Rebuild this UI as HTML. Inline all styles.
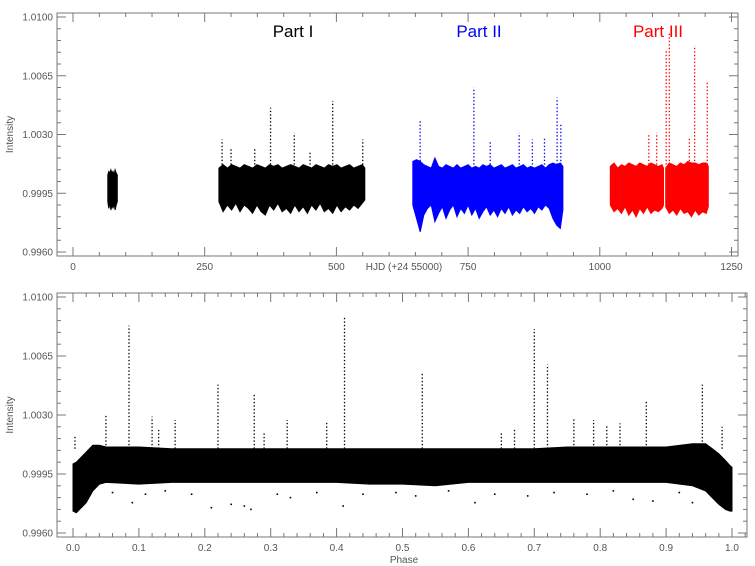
<!DOCTYPE html>
<html><head><meta charset="utf-8">
<style>
html,body{margin:0;padding:0;background:#fff;}
svg{display:block;font-family:"Liberation Sans",sans-serif;}
</style></head>
<body>
<svg id="chart" width="755" height="566" viewBox="0 0 755 566" xmlns="http://www.w3.org/2000/svg"></svg>
<script>
// ---- Top panel data (HJD - 2455000, intensity envelope) ----
const seg0Hjd = [66,68,70,72,74,76,78,80,82,84];
const seg0Hi  = [1.0006,1.0008,1.0007,1.0009,1.0007,1.0008,1.0006,1.0009,1.0007,1.0006];
const seg0Lo  = [0.9990,0.9986,0.9989,0.9985,0.9988,0.9986,0.9989,0.9985,0.9988,0.9990];
const seg1Hjd = [277,285,293,301,309,317,325,333,341,349,357,365,373,381,389,397,405,413,421,429,437,445,453,461,469,477,485,493,501,509,517,525,533,541,549,554];
const seg1Hi  = [1.0010,1.0012,1.0010,1.0012,1.0011,1.0010,1.0012,1.0011,1.0010,1.0012,1.0011,1.0010,1.0012,1.0011,1.0012,1.0010,1.0011,1.0012,1.0011,1.0010,1.0012,1.0011,1.0010,1.0012,1.0011,1.0010,1.0012,1.0011,1.0012,1.0010,1.0011,1.0012,1.0010,1.0011,1.0012,1.0010];
const seg1Lo  = [0.9990,0.9984,0.9988,0.9985,0.9989,0.9984,0.9988,0.9986,0.9983,0.9988,0.9984,0.9982,0.9988,0.9985,0.9989,0.9984,0.9986,0.9983,0.9988,0.9984,0.9987,0.9983,0.9988,0.9985,0.9989,0.9984,0.9986,0.9983,0.9988,0.9984,0.9987,0.9985,0.9988,0.9986,0.9989,0.9991];
const seg2Hjd = [645,652,659,666,673,680,687,694,701,708,715,722,729,736,743,750,757,764,771,778,785,792,799,806,813,820,827,834,841,848,855,862,869,876,883,890,897,904,911,918,925,930];
const seg2Hi  = [1.0014,1.0015,1.0014,1.0012,1.0011,1.0010,1.0016,1.0011,1.0010,1.0012,1.0011,1.0010,1.0012,1.0010,1.0011,1.0012,1.0010,1.0011,1.0010,1.0012,1.0011,1.0012,1.0010,1.0011,1.0012,1.0010,1.0011,1.0012,1.0010,1.0011,1.0012,1.0010,1.0011,1.0010,1.0011,1.0012,1.0010,1.0012,1.0013,1.0012,1.0013,1.0011];
const seg2Lo  = [0.9988,0.9980,0.9972,0.9982,0.9986,0.9988,0.9978,0.9983,0.9987,0.9980,0.9985,0.9988,0.9981,0.9986,0.9983,0.9988,0.9982,0.9986,0.9980,0.9984,0.9987,0.9982,0.9985,0.9981,0.9986,0.9983,0.9987,0.9982,0.9985,0.9983,0.9987,0.9984,0.9986,0.9983,0.9987,0.9985,0.9988,0.9986,0.9980,0.9976,0.9974,0.9985];
const seg3Hjd = [1020,1027,1034,1041,1048,1055,1062,1069,1076,1083,1090,1097,1104,1111,1118,1121];
const seg3Hi  = [1.0011,1.0013,1.0010,1.0012,1.0011,1.0013,1.0012,1.0011,1.0013,1.0012,1.0011,1.0013,1.0012,1.0011,1.0012,1.0010];
const seg3Lo  = [0.9988,0.9984,0.9986,0.9983,0.9987,0.9982,0.9985,0.9981,0.9986,0.9983,0.9987,0.9983,0.9985,0.9984,0.9986,0.9988];
const seg4Hjd = [1125,1132,1139,1146,1153,1160,1167,1174,1181,1188,1195,1202,1206];
const seg4Hi  = [1.0010,1.0013,1.0012,1.0011,1.0013,1.0012,1.0014,1.0013,1.0013,1.0012,1.0013,1.0013,1.0011];
const seg4Lo  = [0.9987,0.9983,0.9985,0.9982,0.9986,0.9983,0.9984,0.9981,0.9985,0.9982,0.9984,0.9983,0.9987];
const spike1Hjd = [283,300,345,375,420,450,493,550];
const spike1Top = [1.0027,1.0022,1.0022,1.0046,1.0031,1.0020,1.0050,1.0027];
const spike2Hjd = [659,761,792,847,872,895,919,926];
const spike2Top = [1.0038,1.0058,1.0026,1.0031,1.0027,1.0028,1.0052,1.0036];
const spike3Hjd = [1093,1108,1126,1132,1170,1180,1204];
const spike3Top = [1.0030,1.0031,1.0080,1.0090,1.0028,1.0083,1.0061];

// ---- Bottom panel data (phase-folded envelope) ----
const phase   = [0.000,0.005,0.010,0.020,0.030,0.040,0.050,0.100,0.150,0.200,0.250,0.300,0.350,0.400,0.450,0.500,0.550,0.600,0.650,0.700,0.750,0.800,0.850,0.900,0.940,0.960,0.970,0.980,0.990,0.997,1.000];
const phaseHi = [1.0001,1.0002,1.0004,1.0008,1.0012,1.0012,1.0011,1.0011,1.0010,1.0010,1.0010,1.0010,1.0010,1.0010,1.0010,1.0010,1.0010,1.0010,1.0010,1.0010,1.0011,1.0011,1.0011,1.0011,1.0013,1.0013,1.0010,1.0007,1.0003,1.0000,0.9999];
const phaseLo = [0.9973,0.9972,0.9974,0.9978,0.9985,0.9989,0.9990,0.9989,0.9990,0.9990,0.9990,0.9990,0.9990,0.9990,0.9989,0.9989,0.9988,0.9990,0.9990,0.9990,0.9990,0.9990,0.9990,0.9990,0.9988,0.9985,0.9981,0.9977,0.9974,0.9973,0.9973];
const spikePhase = [0.003,0.050,0.085,0.120,0.130,0.155,0.220,0.275,0.290,0.325,0.385,0.412,0.530,0.650,0.670,0.700,0.720,0.760,0.790,0.810,0.830,0.870,0.955,0.985];
const spikeTop   = [1.0017,1.0030,1.0083,1.0029,1.0022,1.0027,1.0048,1.0043,1.0020,1.0027,1.0026,1.0088,1.0055,1.0020,1.0022,1.0081,1.0060,1.0028,1.0027,1.0024,1.0025,1.0038,1.0048,1.0023];
const outPhase = [0.02,0.06,0.09,0.11,0.14,0.18,0.21,0.24,0.26,0.27,0.31,0.33,0.37,0.41,0.44,0.49,0.52,0.57,0.61,0.64,0.69,0.73,0.78,0.82,0.85,0.88,0.92,0.94];
const outVal   = [0.9982,0.9984,0.9978,0.9983,0.9985,0.9983,0.9975,0.9977,0.9976,0.9974,0.9983,0.9981,0.9984,0.9976,0.9983,0.9984,0.9982,0.9985,0.9978,0.9983,0.9982,0.9984,0.9983,0.9985,0.9980,0.9979,0.9984,0.9978];
const yTicks = ["0.9960","0.9995","1.0030","1.0065","1.0100"];
const hjdTicks = ["0","250","500","750","1000","1250"];
const phaseTicks = ["0.0","0.1","0.2","0.3","0.4","0.5","0.6","0.7","0.8","0.9","1.0"];

const NS="http://www.w3.org/2000/svg";
const svg=document.getElementById('chart');
function mk(tag,attrs,parent){const e=document.createElementNS(NS,tag);for(const k in attrs)e.setAttribute(k,attrs[k]);(parent||svg).appendChild(e);return e;}

const topP={l:57,r:738,t:13,b:256,y0:252,y1:17};
const botP={l:57,r:747,t:293,b:537,y0:533,y1:297};
const xHjd=v=>73+v*(658.5/1250);
const xPh=v=>73+v*659;
const yTop=v=>topP.y0+(v-0.9960)/0.014*(topP.y1-topP.y0);
const yBot=v=>botP.y0+(v-0.9960)/0.014*(botP.y1-botP.y0);

function axes(P,name,ymap,xmap,xMajorVals,xLabels,xMinorStep,xMin,xMax){
  const g=mk('g',{},svg);
  
  
  const fr=mk('rect',{x:P.l,y:P.t,width:P.r-P.l,height:P.b-P.t,fill:'none',stroke:'#777','stroke-width':1},g);
  
  
  for(let i=0;i<=20;i++){
    const v=0.9960+i*0.0007, y=ymap(v), len=(i%5===0)?9:4;
    mk('line',{x1:P.l,x2:P.l+len,y1:y,y2:y,stroke:'#777'},g);
    mk('line',{x1:P.r,x2:P.r-len,y1:y,y2:y,stroke:'#777'},g);
  }
  yTicks.forEach((t,i)=>{
    const tx=mk('text',{x:P.l-4,y:ymap(parseFloat(t))+3.5,'text-anchor':'end','font-size':10,fill:'#555'},g);
    tx.textContent=t;
    
    
  });
  for(let v=xMin;v<=xMax+1e-9;v+=xMinorStep){
    const x=xmap(v); if(x<P.l||x>P.r)continue;
    const major=xMajorVals.some(m=>Math.abs(m-v)<1e-6), len=major?9:4;
    mk('line',{x1:x,x2:x,y1:P.b,y2:P.b-len,stroke:'#777'},g);
    mk('line',{x1:x,x2:x,y1:P.t,y2:P.t+len,stroke:'#777'},g);
  }
  xLabels.forEach((t,i)=>{
    const tx=mk('text',{x:xmap(xMajorVals[i]),y:P.b+14,'text-anchor':'middle','font-size':10,fill:'#555'},g);
    tx.textContent=t;
    
    
  });
  const yt=mk('text',{x:0,y:0,transform:`translate(13,${(P.t+P.b)/2}) rotate(-90)`,'text-anchor':'middle','font-size':10,fill:'#555'},g);
  yt.textContent='Intensity';
  
  
}

function band(xs,hi,lo,xmap,ymap,color,name){
  let d='M'+xs.map((x,i)=>xmap(x).toFixed(1)+','+ymap(hi[i]).toFixed(1)).join(' L');
  for(let i=xs.length-1;i>=0;i--) d+=' L'+xmap(xs[i]).toFixed(1)+','+ymap(lo[i]).toFixed(1);
  const p=mk('path',{d:d+'Z',fill:color,stroke:color,'stroke-width':1});
  
  
}
function spikes(xs,tops,base,xmap,ymap,color,name){
  xs.forEach((x,i)=>{
    const l=mk('line',{x1:xmap(x),x2:xmap(x),y1:ymap(base),y2:ymap(tops[i]),stroke:color,'stroke-width':1.3,'stroke-dasharray':'1.3 2.2'});
    
    
  });
}

// top panel
axes(topP,'top-panel',yTop,xHjd,[0,250,500,750,1000,1250],hjdTicks,50,0,1250);
band(seg0Hjd,seg0Hi,seg0Lo,xHjd,yTop,'#000','early-segment-band');
band(seg1Hjd,seg1Hi,seg1Lo,xHjd,yTop,'#000','part-i-band');
band(seg2Hjd,seg2Hi,seg2Lo,xHjd,yTop,'#0000ff','part-ii-band');
band(seg3Hjd,seg3Hi,seg3Lo,xHjd,yTop,'#ff0000','part-iii-band-a');
band(seg4Hjd,seg4Hi,seg4Lo,xHjd,yTop,'#ff0000','part-iii-band-b');
spikes(spike1Hjd,spike1Top,1.0010,xHjd,yTop,'#000','part-i-flare');
spikes(spike2Hjd,spike2Top,1.0010,xHjd,yTop,'#0000ff','part-ii-flare');
spikes(spike3Hjd,spike3Top,1.0010,xHjd,yTop,'#ff0000','part-iii-flare');
[['Part I',293,'#000','part-i-label'],['Part II',479,'#0000ff','part-ii-label'],['Part III',658,'#ff0000','part-iii-label']].forEach(a=>{
  const t=mk('text',{x:a[1],y:37,'text-anchor':'middle','font-size':17,fill:a[2]});
  t.textContent=a[0];
  
  
});
const xt1=mk('text',{x:404,y:270,'text-anchor':'middle','font-size':10,fill:'#555'});
xt1.textContent='HJD (+24 55000)';



// bottom panel
axes(botP,'bottom-panel',yBot,xPh,[0,.1,.2,.3,.4,.5,.6,.7,.8,.9,1.0],phaseTicks,0.02,0,1.04);
band(phase,phaseHi,phaseLo,xPh,yBot,'#000','phased-band');
spikes(spikePhase,spikeTop,1.0010,xPh,yBot,'#000','phased-flare');
outPhase.forEach((p,i)=>{
  const c=mk('rect',{x:xPh(p)-0.8,y:yBot(outVal[i])-0.8,width:1.6,height:1.6,fill:'#000'});
  
  
});
const xt2=mk('text',{x:404,y:563,'text-anchor':'middle','font-size':10,fill:'#555'});
xt2.textContent='Phase';


</script>
</body></html>
